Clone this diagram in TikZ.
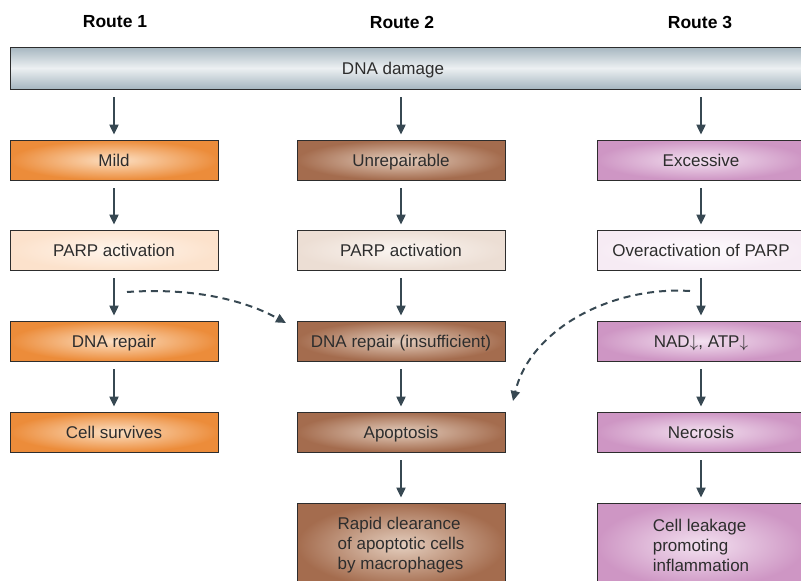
\documentclass[tikz,border=0pt]{standalone}
\usepackage{fontspec}
\setmainfont{Liberation Sans}
\usepackage{tikz}
\usetikzlibrary{arrows.meta}
\usepackage{xcolor}

\definecolor{arrowgrey}{RGB}{55,72,82}
\definecolor{textgrey}{RGB}{45,45,45}
\definecolor{orangeout}{RGB}{236,140,58}
\definecolor{orangein}{RGB}{252,224,196}
\definecolor{peachout}{RGB}{252,226,204}
\definecolor{peachin}{RGB}{255,245,236}
\definecolor{brownout}{RGB}{164,108,78}
\definecolor{brownin}{RGB}{228,206,190}
\definecolor{sandout}{RGB}{236,222,212}
\definecolor{sandin}{RGB}{251,246,242}
\definecolor{pinkout}{RGB}{206,150,196}
\definecolor{pinkin}{RGB}{243,225,240}
\definecolor{lilacout}{RGB}{246,235,244}
\definecolor{lilacin}{RGB}{254,251,254}
\definecolor{barout}{RGB}{166,182,192}
\definecolor{barin}{RGB}{236,240,242}

\begin{document}
\begin{tikzpicture}[x=1pt,y=-1pt,
    font=\fontsize{17}{20}\selectfont, text=textgrey,
    route/.style={font=\fontsize{17.5}{20}\selectfont\bfseries, text=black},
    box/.style={draw=textgrey, line width=0.8pt, minimum width=208pt,
                minimum height=40pt, inner sep=2pt,
                text height=15pt, text depth=2pt},
    orangebox/.style={box, inner color=orangein, outer color=orangeout},
    peachbox/.style={box, inner color=peachin, outer color=peachout},
    brownbox/.style={box, inner color=brownin, outer color=brownout},
    sandbox/.style={box, inner color=sandin, outer color=sandout},
    pinkbox/.style={box, inner color=pinkin, outer color=pinkout},
    lilacbox/.style={box, inner color=lilacin, outer color=lilacout},
    tallbox/.style={minimum height=84pt, align=left,
                    text height={}, text depth={}},
    flow/.style={draw=arrowgrey, line width=2pt, shorten <=8pt, shorten >=5pt,
                 -{Triangle[width=9pt,length=10pt]}},
    hint/.style={draw=arrowgrey, line width=2pt, dash pattern=on 7pt off 5pt,
                 -{Triangle[width=9pt,length=10pt]}}]
    \useasboundingbox (0,0) rectangle (801,581);
    % route headings
    \node[route] (route1) at (115,22) {Route 1};
    \node[route] (route2) at (402,22) {Route 2};
    \node[route] (route3) at (700,22) {Route 3};
    % common cause
    \path[draw=textgrey, line width=0.8pt, top color=barout, bottom color=barout,
          middle color=barin] (10,47) rectangle (806,89);
    \node[minimum height=42pt, text height=15pt, text depth=2pt] (damage)
        at (393,68) {DNA damage};
    % route 1
    \node[orangebox] (mild) at (114,160) {Mild};
    \node[peachbox] (parp1) at (114,250) {PARP activation};
    \node[orangebox] (repair1) at (114,341) {DNA repair};
    \node[orangebox] (survive) at (114,432) {Cell survives};
    % route 2
    \node[brownbox] (unrep) at (401,160) {Unrepairable};
    \node[sandbox] (parp2) at (401,250) {PARP activation};
    \node[brownbox] (repair2) at (401,341) {DNA repair (insufficient)};
    \node[brownbox] (apopt) at (401,432) {Apoptosis};
    \node[brownbox, tallbox] (clear) at (401,545)
        {Rapid clearance\\of apoptotic cells\\by macrophages};
    % route 3
    \node[pinkbox] (excess) at (701,160) {Excessive};
    \node[lilacbox] (parp3) at (701,250) {Overactivation of PARP};
    \node[pinkbox] (nad) at (701,341) {NAD$\downarrow$, ATP$\downarrow$};
    \node[pinkbox] (necro) at (701,432) {Necrosis};
    \node[pinkbox, tallbox] (leak) at (701,545)
        {Cell leakage\\promoting\\inflammation};
    % arrows
    \draw[flow] (damage.south -| mild.north) -- (mild);
    \draw[flow] (damage.south -| unrep.north) -- (unrep);
    \draw[flow] (damage.south -| excess.north) -- (excess);
    \foreach \a/\b in {mild/parp1, parp1/repair1, repair1/survive,
                       unrep/parp2, parp2/repair2, repair2/apopt, apopt/clear,
                       excess/parp3, parp3/nad, nad/necro, necro/leak}
      \draw[flow] (\a) -- (\b);
    % cross-over routes
    \coordinate (spill1) at (127,292);
    \coordinate (land2) at (286,323);
    \coordinate (spill3) at (690,291);
    \coordinate (land2b) at (513,401);
    \draw[hint] (spill1) .. controls (200,287) and (250,303) .. (land2);
    \draw[hint] (spill3) .. controls (610,286) and (530,330) .. (land2b);
\end{tikzpicture}
\end{document}
